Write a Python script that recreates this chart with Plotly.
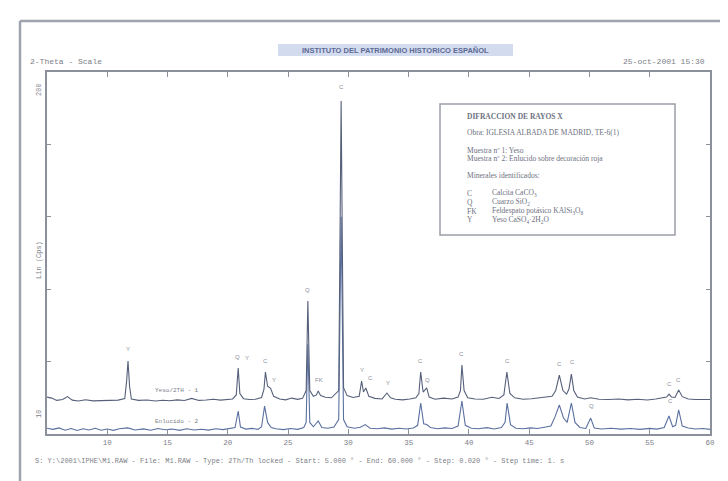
import plotly.graph_objects as go

# ---------------- data ----------------
# Upper pattern: Muestra 1 (Yeso), 2-theta (deg) and Lin (Cps)
tt_upper = [5.0, 5.4, 5.8, 6.3, 6.7, 7.1, 7.6, 8.2, 8.8, 9.5, 10.2, 10.9, 11.45, 11.6, 11.72, 11.85, 12.0,
            12.6, 13.3, 14.0, 14.6, 15.2, 15.8, 16.4, 17.0, 17.6, 18.2, 18.8, 19.4, 19.9, 20.4, 20.7,
            20.86, 21.0, 21.3, 21.8, 22.3, 22.8, 23.0, 23.12, 23.3, 23.55, 23.8, 24.3, 24.8, 25.3, 25.8,
            26.2, 26.5, 26.64, 26.8, 27.1, 27.35, 27.5, 27.7, 28.1, 28.6, 29.2, 29.4, 29.6, 29.9, 30.4,
            30.9, 31.1, 31.25, 31.45, 31.7, 32.2, 32.8, 33.2, 33.5, 33.9, 34.5, 35.1, 35.6, 35.85, 36.0,
            36.2, 36.5, 36.7, 37.2, 37.9, 38.6, 39.1, 39.3, 39.42, 39.6, 39.9, 40.5, 41.2, 41.9, 42.5,
            42.9, 43.15, 43.4, 43.8, 44.5, 45.2, 45.8, 46.4, 46.9, 47.2, 47.5, 47.8, 48.1, 48.3, 48.5,
            48.7, 49.0, 49.6, 50.1, 50.8, 51.6, 52.4, 53.2, 54.0, 54.8, 55.5, 56.1, 56.4, 56.6, 56.8,
            57.1, 57.4, 57.7, 58.2, 58.8, 59.4, 60.0]
cps_upper = [25.5, 24.8, 23.2, 23.8, 25.8, 23.4, 22.8, 23.6, 22.9, 23.1, 23.0, 23.4, 24.5, 36.0, 50.4, 33.0, 24.2,
             23.2, 23.5, 22.8, 23.3, 23.0, 23.6, 23.1, 24.6, 23.2, 23.5, 24.0, 23.4, 23.7, 24.2, 27.0,
             45.6, 28.0, 24.4, 23.8, 24.0, 25.2, 31.0, 42.8, 33.0, 31.5, 26.0, 24.2, 23.6, 24.8, 23.9,
             24.6, 30.0, 91.8, 30.0, 26.0, 27.0, 29.7, 26.5, 25.4, 25.0, 30.0, 230.0, 32.0, 26.5, 25.2,
             26.0, 36.6, 29.0, 31.8, 26.0, 24.6, 24.2, 28.3, 25.0, 24.0, 23.6, 24.2, 25.0, 28.0, 42.8,
             29.0, 31.8, 25.5, 24.0, 24.8, 24.2, 25.5, 30.0, 47.6, 30.0, 25.0, 24.2, 24.0, 25.4, 24.5,
             27.0, 42.8, 28.0, 25.0, 24.0, 24.3, 24.8, 25.5, 26.0, 30.0, 40.7, 30.0, 27.5, 31.0, 41.4,
             30.0, 25.5, 24.2, 25.0, 24.0, 23.8, 24.2, 23.6, 24.0, 23.5, 24.2, 24.8, 25.5, 27.6, 25.6,
             25.2, 30.4, 25.8, 24.2, 23.8, 23.6, 23.8]

# Lower pattern: Muestra 2 (Enlucido)
tt_lower = [5.0, 5.5, 6.0, 6.5, 7.0, 7.5, 8.0, 8.5, 9.0, 9.5, 10.0, 10.5, 11.0, 11.7, 12.3, 13.0, 13.6,
            14.2, 14.8, 15.4, 16.0, 16.6, 17.2, 17.8, 18.4, 19.0, 19.6, 20.2, 20.6, 20.86, 21.05, 21.5,
            22.0, 22.5, 22.8, 23.05, 23.3, 23.6, 24.0, 24.6, 25.2, 25.8, 26.3, 26.5, 26.64, 26.8, 27.1,
            27.5, 27.8, 28.3, 28.8, 29.2, 29.4, 29.6, 29.9, 30.5, 31.0, 31.4, 31.8, 32.4, 33.0, 33.6,
            34.2, 34.8, 35.4, 35.75, 36.0, 36.25, 36.5, 36.8, 37.4, 38.0, 38.6, 39.1, 39.42, 39.7, 40.2,
            40.8, 41.5, 42.1, 42.7, 43.0, 43.17, 43.45, 43.9, 44.5, 45.1, 45.7, 46.3, 46.8, 47.15, 47.5,
            47.85, 48.15, 48.5, 48.8, 49.2, 49.7, 50.1, 50.4, 51.0, 51.8, 52.6, 53.4, 54.2, 55.0, 55.6,
            56.2, 56.6, 56.9, 57.15, 57.4, 57.7, 58.2, 58.8, 59.4, 60.0]
cps_lower = [4.0, 3.2, 4.2, 2.6, 3.8, 2.4, 3.6, 2.8, 4.0, 2.6, 3.4, 2.5, 3.6, 4.2, 2.8, 3.5, 2.6,
             3.8, 2.9, 3.4, 2.5, 3.6, 2.8, 3.3, 2.7, 3.6, 3.0, 3.8, 4.5, 15.9, 4.8, 3.4,
             3.9, 3.2, 5.0, 19.3, 8.0, 4.5, 3.6, 3.0, 3.8, 3.2, 4.5, 8.0, 62.0, 8.0, 5.0,
             9.0, 4.5, 4.0, 4.8, 10.0, 150.0, 10.0, 5.0, 4.0, 4.6, 6.5, 4.0, 3.6, 4.2, 3.4,
             4.0, 3.5, 4.2, 6.0, 21.4, 7.0, 6.5, 4.5, 3.6, 4.2, 3.8, 5.5, 22.8, 6.0, 4.0,
             3.6, 4.4, 3.5, 4.5, 8.0, 21.4, 6.5, 4.0, 3.6, 4.2, 3.8, 4.6, 5.5, 12.0, 20.0,
             11.0, 8.0, 21.4, 8.0, 4.5, 3.8, 11.0, 4.2, 3.5, 4.0, 3.4, 3.8, 3.2, 3.9, 3.4,
             4.5, 12.4, 5.0, 6.0, 16.6, 5.5, 4.2, 3.5, 3.8, 3.2]

# Phase labels on the peaks
peak_text = ["Y", "Q", "Y", "C", "Y", "Q", "FK", "C", "Y", "C", "Y", "C", "Q", "C", "C", "C", "C", "C", "C",
             "Q", "C"]
peak_tt = [11.72, 20.8, 21.6, 23.12, 23.8, 26.64, 27.6, 29.4, 31.1, 31.8, 33.3, 36.0, 36.6, 39.42, 43.17,
           47.5, 48.57, 56.6, 57.4, 50.2, 56.7]
peak_cps = [55, 50, 49, 47, 34, 96, 34, 236, 41, 35, 32, 47, 34, 52, 47, 45, 46, 31, 34, 16, 19]

x_ticks = [10, 15, 20, 25, 30, 35, 40, 45, 50, 55, 60]
y_ticks = [0, 50, 100, 150, 200, 250]

trace_names = ["Yeso/2TH - 1", "Enlucido - 2"]

legend_lines = [
    "DIFRACCION DE RAYOS X",
    "Obra: IGLESIA ALBADA DE MADRID, TE-6(1)",
    "Muestra nº 1: Yeso",
    "Muestra nº 2: Enlucido sobre decoración roja",
    "Minerales identificados:",
]
phase_codes = ["C", "Q", "FK", "Y"]
phase_names = ["Calcita CaCO<sub>3</sub>", "Cuarzo SiO<sub>2</sub>",
               "Feldespato potásico KAlSi<sub>3</sub>O<sub>8</sub>",
               "Yeso CaSO<sub>4</sub>·2H<sub>2</sub>O"]

# ---------------- layout helpers ----------------
W, H = 728, 481
L, R, T, B = 39, 702, 64, 426


def px(x):
    return (x - L) / (R - L)


def py(y):
    return (B - y) / (B - T)


GRAY = "#8b909a"
TXT = "#7d8088"


def note(x, y, text, size, family, color=TXT, xanchor="left", angle=0):
    return dict(x=px(x), y=py(y), xref="paper", yref="paper", text=text, showarrow=False,
                xanchor=xanchor, yanchor="middle", textangle=angle,
                font=dict(size=size, color=color, family=family))


fig = go.Figure()
fig.add_trace(go.Scatter(x=tt_lower, y=cps_lower, mode="lines", name=trace_names[1],
                         line=dict(color="#5a70a0", width=1.1), hoverinfo="skip"))
fig.add_trace(go.Scatter(x=tt_upper, y=cps_upper, mode="lines", name=trace_names[0],
                         line=dict(color="#56607a", width=1.1), hoverinfo="skip"))

ann = []
for t, x, y in zip(peak_text, peak_tt, peak_cps):
    ann.append(dict(x=x, y=y, xref="x", yref="y", text=t, showarrow=False, yanchor="bottom",
                    font=dict(size=6, color="#8a8e98", family="Liberation Sans")))

# trace name labels
ann.append(note(145, 382, trace_names[0], 6, "Liberation Mono"))
ann.append(note(145, 413, trace_names[1], 6, "Liberation Mono"))

# header texts
ann.append(note(20, 54, "2-Theta - Scale", 8, "Liberation Mono"))
ann.append(note(699, 53, "25-oct-2001 15:30", 8, "Liberation Mono", xanchor="right"))
ann.append(note(387, 42, "<b>INSTITUTO DEL PATRIMONIO HISTORICO ESPAÑOL</b>", 7.5, "Liberation Sans",
                color="#5c6a94", xanchor="center"))

# y axis rotated labels
ann.append(note(31, 82, "200", 7, "Liberation Mono", xanchor="center", angle=-90))
ann.append(note(31, 252, "Lin (Cps)", 7, "Liberation Mono", xanchor="center", angle=-90))
ann.append(note(31, 406, "10", 7, "Liberation Mono", xanchor="center", angle=-90))

# footer
ann.append(note(25, 453, "S: Y:\\2001\\IPHE\\M1.RAW - File: M1.RAW - Type: 2Th/Th locked - Start: 5.000 ° - "
                         "End: 60.000 ° - Step: 0.020 ° - Step time: 1. s", 7, "Liberation Mono"))

# legend box content
legend_y = [108, 125, 142, 150, 167]
for i, (line, yy) in enumerate(zip(legend_lines, legend_y)):
    txt = "<b>" + line + "</b>" if i == 0 else line
    ann.append(note(457, yy, txt, 7.5, "Liberation Serif", color="#6d7180"))
phase_y = [185, 194, 203, 212]
for code, name, yy in zip(phase_codes, phase_names, phase_y):
    ann.append(note(457, yy, code, 7.5, "Liberation Serif", color="#6d7180"))
    ann.append(note(482, yy, name, 7.5, "Liberation Serif", color="#6d7180"))

shapes = [
    # outer page border (top and left edges)
    dict(type="line", xref="paper", yref="paper", x0=px(12), y0=py(13), x1=px(728), y1=py(13),
         line=dict(color="#9ea3ad", width=2.5), layer="below"),
    dict(type="line", xref="paper", yref="paper", x0=px(12), y0=py(13), x1=px(12), y1=py(481),
         line=dict(color="#9ea3ad", width=2.5), layer="below"),
    # title highlight
    dict(type="rect", xref="paper", yref="paper", x0=px(270), y0=py(48), x1=px(505), y1=py(36),
         line=dict(width=0), fillcolor="#d3dbef", layer="below"),
    # legend box
    dict(type="rect", xref="paper", yref="paper", x0=px(432), y0=py(227), x1=px(667), y1=py(96),
         line=dict(color="#9a9ea8", width=1.5), fillcolor="rgba(255,255,255,0)"),
]

fig.update_layout(
    width=W, height=H, autosize=False,
    margin=dict(l=L, r=W - R, t=T, b=H - B, pad=0),
    paper_bgcolor="white", plot_bgcolor="white",
    showlegend=False,
    annotations=ann, shapes=shapes,
    xaxis=dict(range=[5, 60], tickvals=x_ticks, ticktext=[str(v) for v in x_ticks], ticks="inside",
               ticklen=5, tickcolor=GRAY, showline=True, linecolor=GRAY, linewidth=1.5, mirror="ticks",
               showgrid=False, zeroline=False,
               tickfont=dict(size=7.5, color=TXT, family="Liberation Mono")),
    yaxis=dict(range=[0, 250], tickvals=y_ticks, ticks="inside", ticklen=4, tickcolor=GRAY,
               showticklabels=False, showline=True, linecolor=GRAY, linewidth=1.5, mirror="ticks",
               showgrid=False, zeroline=False),
)

fig.write_html("out.html")
